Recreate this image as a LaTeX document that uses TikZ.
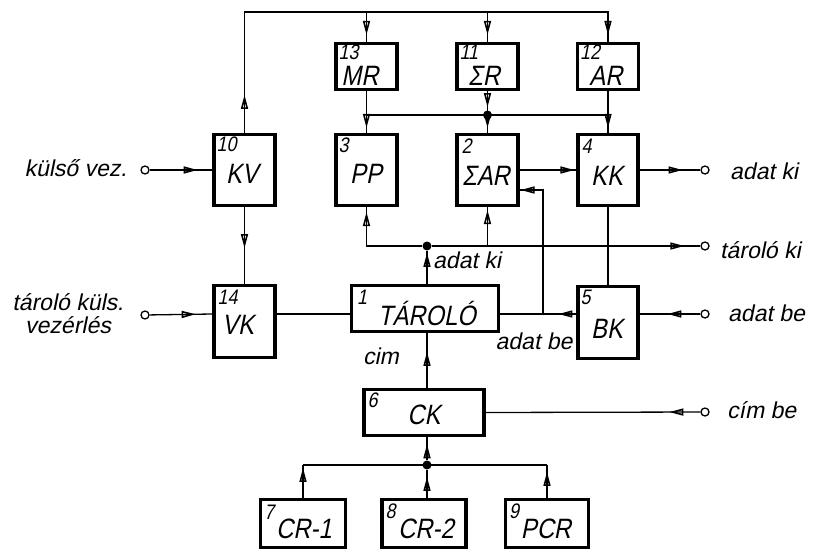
\documentclass[tikz,border=0pt]{standalone}
\usepackage{fontspec}
\newfontfamily\dinl{Liberation Sans}[FakeSlant=0.2]
\newfontfamily\dinc{Liberation Sans}[FakeSlant=0.2,FakeStretch=0.85]
\usetikzlibrary{arrows.meta,decorations.markings,calc}
\tikzset{harrow/.tip={Triangle[open,length=14pt,width=7pt,line width=1.6pt]}}
\begin{document}
\begin{tikzpicture}[x=1pt,y=-1pt,
  box/.style={draw,line width=3.2pt,inner sep=0pt},
  wire/.style={line width=1.3pt},
  marr/.style={postaction={decorate},decoration={markings,mark=at position #1 with {\arrow{harrow}}}},
  marrr/.style 2 args={postaction={decorate},decoration={markings,mark=at position #1 with {\arrow{harrow}},mark=at position #2 with {\arrow{harrow}}}},
  num/.style={font=\dinc\fontsize{21}{21}\selectfont,inner sep=0pt,anchor=north west},
  big/.style={font=\dinc\fontsize{28}{28}\selectfont,inner sep=0pt},
  lab/.style={font=\dinl\fontsize{23}{23}\selectfont,inner sep=0pt},
  term/.style={circle,draw,line width=1.3pt,fill=white,minimum size=8pt,inner sep=0pt},
  dot/.style={circle,fill,minimum size=9pt,inner sep=0pt}]
\useasboundingbox[fill=white] (0,0) rectangle (822,551);
% boxes
\node[box,minimum width=61pt,minimum height=46pt] (mr) at (366.5,66.5) {};
\node[box,minimum width=61pt,minimum height=46pt] (sr) at (487.5,66.5) {};
\node[box,minimum width=61pt,minimum height=46pt] (ar) at (608,66.5) {};
\node[box,minimum width=61pt,minimum height=71pt] (kv) at (244.5,170) {};
\node[box,minimum width=61pt,minimum height=71pt] (pp) at (366.5,170) {};
\node[box,minimum width=61pt,minimum height=71pt] (sar) at (487.5,170) {};
\node[box,minimum width=60pt,minimum height=71pt] (kk) at (608,170) {};
\node[box,minimum width=61pt,minimum height=72pt] (vk) at (244.5,321.5) {};
\node[box,minimum width=147pt,minimum height=46pt] (tar) at (425,308.5) {};
\node[box,minimum width=60pt,minimum height=72pt] (bk) at (608,322.5) {};
\node[box,minimum width=120pt,minimum height=46pt] (ck) at (424,412.5) {};
\node[box,minimum width=85pt,minimum height=48pt] (cr1) at (303,523.5) {};
\node[box,minimum width=84pt,minimum height=48pt] (cr2) at (424,523.5) {};
\node[box,minimum width=83pt,minimum height=48pt] (pcr) at (547,523.5) {};
% box numbers
\node[num] (n13) at ([shift={(4,3)}]mr.north west) {13};
\node[num] (n11) at ([shift={(4,3)}]sr.north west) {11};
\node[num] (n12) at ([shift={(4,3)}]ar.north west) {12};
\node[num] (n10) at ([shift={(4,4)}]kv.north west) {10};
\node[num] (n3) at ([shift={(4,5)}]pp.north west) {3};
\node[num] (n2) at ([shift={(6,6)}]sar.north west) {2};
\node[num] (n4) at ([shift={(5,6)}]kk.north west) {4};
\node[num] (n14) at ([shift={(5,6)}]vk.north west) {14};
\node[num] (n1) at ([shift={(7,6)}]tar.north west) {1};
\node[num] (n5) at ([shift={(4,5)}]bk.north west) {5};
\node[num] (n6) at ([shift={(5,5)}]ck.north west) {6};
\node[num] (n7) at ([shift={(5,7)}]cr1.north west) {7};
\node[num] (n8) at ([shift={(5,6)}]cr2.north west) {8};
\node[num] (n9) at ([shift={(5,6)}]pcr.north west) {9};
% box labels
\node[big] (lmr) at (360,76) {MR};
\node[big] (lsr) at (484,76) {ΣR};
\node[big] (lar) at (606,76) {AR};
\node[big] (lkv) at (242,174) {KV};
\node[big] (lpp) at (366,174) {PP};
\node[big] (lsar) at (486,176) {ΣAR};
\node[big] (lkk) at (607,176) {KK};
\node[big] (lvk) at (238,325) {VK};
\node[big] (ltar) at (427,313) {TÁROLÓ};
\node[big] (lbk) at (607,329) {BK};
\node[big] (lck) at (424,415) {CK};
\node[big] (lcr1) at (304,529) {CR-1};
\node[big] (lcr2) at (426,529) {CR-2};
\node[big] (lpcr) at (546,529) {PCR};
% terminals and dots
\node[term] (t1) at (145,170) {};
\node[term] (t3) at (705,170) {};
\node[term] (t2) at (705,246) {};
\node[term] (t5) at (145,315) {};
\node[term] (t4) at (705,314) {};
\node[term] (t6) at (705,412) {};
\node[dot] (adot) at (427,246) {};
\node[dot] (sdot) at (487.5,115) {};
\node[dot] (bdot) at (427,465) {};
\coordinate (ytop) at (0,12);
\coordinate (ytb) at (0,314);
\coordinate (jx) at (543,314);
\coordinate (jy) at (543,190);
% connectors
\draw[wire,marrr={38pt}{-7pt}] (kv.north) |- (ar.north |- ytop) -- (ar.north);
\draw[wire,marr=-7pt] (mr.north |- ytop) -- (mr.north);
\draw[wire,marr=-7pt] (sr.north |- ytop) -- (sr.north);
\draw[wire,marr=-5pt] (mr.south) -- (pp.north);
\draw[wire,marr=-5pt] (ar.south) -- (kk.north);
\draw[wire,marrr={16pt}{-5pt}] (sr.south) -- (sar.north);
\draw[wire] (mr.south |- sdot) -- (ar.south |- sdot);
\draw[wire,marr=48pt] (t1) -- (kv.west);
\draw[wire,marr=41pt] (kv.south) -- (vk.north);
\draw[wire,marr=-5pt] (adot) -| (pp.south);
\draw[wire,marr=-16pt] (adot) -- (t2);
\draw[wire,marr=-3pt] (adot -| sar.south) -- (sar.south);
\draw[wire,marr=31pt] (adot |- tar.north) -- (adot);
\draw[wire,marr=-2pt] (sar.east) -- (kk.west);
\draw[wire,marr=43pt] (kk.east) -- (t3);
\draw[wire,marr=-1pt] (jx) |- (sar.east |- jy);
\draw[wire] (kk.south) -- (bk.north);
\draw[wire] (vk.east |- ytb) -- (tar.west |- ytb);
\draw[wire,marr=18pt] (bk.west |- ytb) -- (tar.east |- ytb);
\draw[wire,marr=33pt] (t4) -- (bk.east |- ytb);
\draw[wire,marr=46pt] (t5) -- (vk.west |- ytb);
\draw[wire,marr=36pt] (adot |- ck.north) -- (adot |- tar.south);
\draw[wire,marr=31pt] (t6) -- (ck.east);
\draw[wire,marr=16pt] (bdot) -- (bdot |- ck.south);
\draw[wire] (cr1.north |- bdot) -- (pcr.north |- bdot);
\draw[wire,marr=30pt] (cr1.north) -- (cr1.north |- bdot);
\draw[wire,marr=21pt] (bdot |- cr2.north) -- (bdot);
\draw[wire,marr=26pt] (pcr.north) -- (pcr.north |- bdot);
% labels
\node[lab,anchor=east] (lkulso) at (127,168) {külső vez.};
\node[lab,align=center] (ltkv) at (68,314) {tároló küls.\\vezérlés};
\node[lab,anchor=west] (ladki) at (730,171) {adat ki};
\node[lab,anchor=west] (ltarki) at (720,250) {tároló ki};
\node[lab,anchor=west] (ladbe) at (728,313) {adat be};
\node[lab,anchor=west] (lcimbe) at (727,410) {cím be};
\node[lab,anchor=west] (ladki2) at (433,260) {adat ki};
\node[lab] (ladbe2) at (534,341) {adat be};
\node[lab] (lcim) at (381,356) {cim};
\end{tikzpicture}
\end{document}
